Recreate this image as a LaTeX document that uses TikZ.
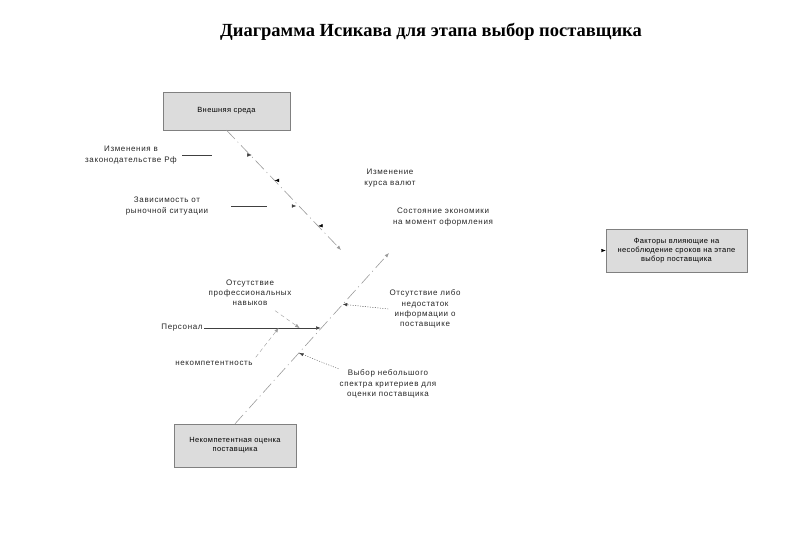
\documentclass[tikz,border=0pt]{standalone}
\usepackage{fontspec}
\setmainfont{Liberation Sans}
\newfontfamily\titlefont{Liberation Serif}
\newfontfamily\labfont{Liberation Sans}[LetterSpace=8]
\newfontfamily\boxfont{Liberation Sans}[LetterSpace=5]
\usetikzlibrary{arrows.meta,positioning,calc}
\definecolor{boxfill}{HTML}{DCDCDC}
\definecolor{boxline}{HTML}{808080}
\definecolor{spinegray}{HTML}{9A9A9A}

\begin{document}
\begin{tikzpicture}[
  x=1pt,y=-1pt,
  box/.style={draw=boxline,fill=boxfill,align=center,font=\boxfont\fontsize{7.5}{9}\selectfont,inner sep=2pt},
  lab/.style={align=center,font=\labfont\fontsize{8}{10.2}\selectfont,inner sep=1pt,text=black!85},
  tip/.style={-{Latex[length=4.5pt,width=3.5pt]}},
  spine/.style={tip,spinegray,semithick,dash pattern=on 12pt off 4pt on 1pt off 4pt},
  link/.style={tip,black!75,dash pattern=on 30pt off 100pt},
  hidden/.style={tip,black,dash pattern=on 0pt off 800pt},
  dots/.style={tip,black!75,dash pattern=on 1pt off 1.5pt},
  dashlink/.style={tip,spinegray,dash pattern=on 4pt off 3pt}]
\useasboundingbox (0,0) rectangle (800,554);
\node[font=\titlefont\bfseries\fontsize{18.5}{22}\selectfont] (title) at (431,32) {Диаграмма Исикава для этапа выбор поставщика};
% boxes
\node[box,minimum width=127pt,minimum height=38pt] (box1) at (226.5,111) {Внешняя среда};
\node[box,minimum width=122pt,minimum height=43pt] (box2) at (235,445.5) {Некомпетентная оценка\\поставщика};
\node[box,minimum width=141pt,minimum height=43pt] (box3) at (676.5,250.5) {Факторы влияющие на\\несоблюдение сроков на этапе\\выбор поставщика};
% spines
\coordinate (head1) at (341,250);
\coordinate (head2) at (389,253);
\draw[spine] (box1.south) -- (head1);
\draw[spine] (box2.north) -- (head2);
\draw[hidden] (head2) -- (box3.west);
\coordinate (p1) at ($(box1.south)!0.22!(head1)$);
\coordinate (p2) at ($(box1.south)!0.42!(head1)$);
\coordinate (p3) at ($(box1.south)!0.61!(head1)$);
\coordinate (p4) at ($(box1.south)!0.80!(head1)$);
\coordinate (q1) at ($(box2.north)!0.415!(head2)$);
\coordinate (q2) at ($(box2.north)!0.556!(head2)$);
\coordinate (q3) at ($(box2.north)!0.70!(head2)$);
% causes, upper branch
\node[lab] (lzak) at (131,155) {Изменения в\\законодательстве Рф};
\node[lab] (lzav) at (167,206) {Зависимость от\\рыночной ситуации};
\node[lab] (lkur) at (390,178) {Изменение\\курса валют};
\node[lab] (leco) at (443,217) {Состояние экономики\\на момент оформления};
\draw[link,shorten <=4pt] (lzak.east) -- (p1 |- lzak.east);
\draw[link,shorten <=22pt,dash pattern=on 36pt off 100pt] (lzav.east) -- (p3 |- lzav.east);
\draw[hidden] (lkur) -- (p2);
\draw[hidden] (leco) -- (p4);
% causes, lower branch
\node[lab] (lper) at (182,328) {Персонал};
\coordinate (r1) at ($(q2)+(-21,0)$);
\coordinate (r2) at ($(q2)+(-42,0)$);
\draw[tip,black!75] (lper.east) -- (q2 |- lper.east);
\node[lab] (lotp) at (250,293) {Отсутствие\\профессиональных\\навыков};
\node[lab] (lnek) at (214,363) {некомпетентность};
\draw[dashlink,shorten <=6pt] (lotp) -- (r1 |- lper.east);
\draw[dashlink,shorten <=3pt] (lnek.north east) -- (r2 |- lper.east);
\node[lab] (linf) at (425,309) {Отсутствие либо\\недостаток\\информации о\\поставщике};
\node[lab] (lvyb) at (388,384) {Выбор небольшого\\спектра критериев для\\оценки поставщика};
\draw[dots] (linf.west) -- (q3);
\draw[dots] (lvyb.north west) -- (q1);
\end{tikzpicture}
\end{document}
